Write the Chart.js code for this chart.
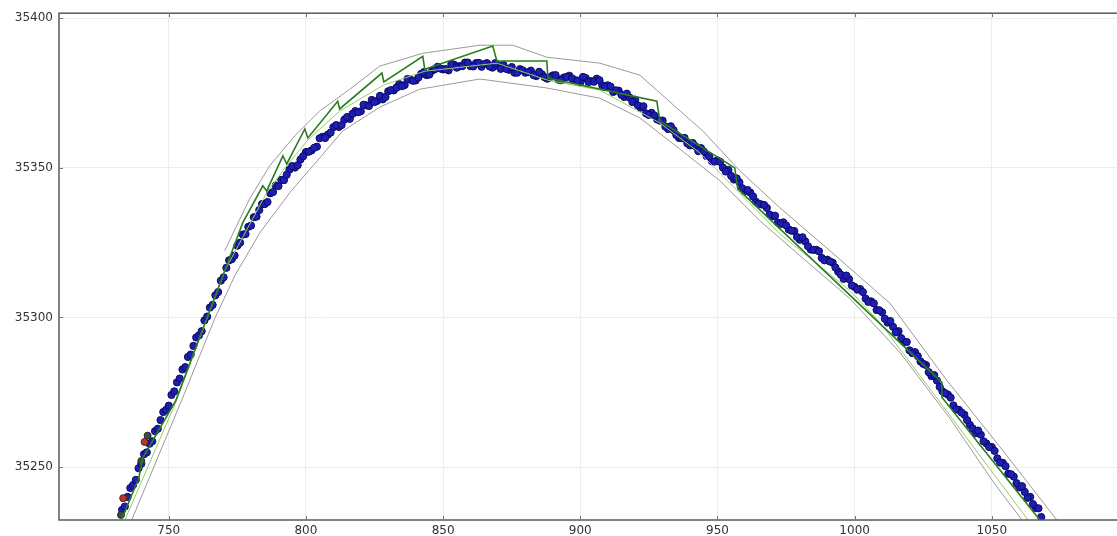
<!DOCTYPE html>
<html><head><meta charset="utf-8">
<script src="https://cdn.jsdelivr.net/npm/chart.js@4/dist/chart.umd.min.js"></script>
<style>
html,body{margin:0;padding:0;background:#fff;overflow:hidden}
#wrap{width:1160px;height:536px;position:relative}
</style>
</head><body><div id="wrap"><canvas id="c"></canvas></div>
<script>
// tick labels
const xTickValues = [750, 800, 850, 900, 950, 1000, 1050];
const yTickValues = [35250, 35300, 35350, 35400];

// measured track (blue dots)
const trackX = [733,734,735,736,737,738,739,740,741,742,743,744,745,746,747,748,749,750,751,752,753,754,755,756,757,758,759,760,761,762,763,764,765,766,767,768,769,770,771,772,773,774,775,776,777,778,779,780,781,782,783,784,785,786,787,788,789,790,791,792,
794,796,798,800,802,804,806,808,810,812,814,816,818,820,822,824,826,828,830,832,834,836,838,840,842,844,846,848,850,852,854,856,858,860,862,864,866,868,870,872,874,876,878,880,882,884,886,888,890,892,894,896,898,900,902,904,906,908,910,912,914,916,918,920,922,924,926,928,930,932,934,936,938,940,942,944,946,948,950,952,954,956,958,960,962,964,966,968,970,972,974,976,978,980,982,984,986,988,990,992,994,996,998,1000,1002,1004,1006,1008,1010,1012,1014,1016,1018,1020,1022,1024,1026,1028,1030,1032,1034,1036,1038,1040,1042,1044,1046,1048,1050,1052,1054,1056,1058,1060,1062,1064,1066,1068];
const trackY = [35235.7,35236.8,35240.0,35243.0,35244.0,35245.7,35249.6,35251.1,35254.3,35254.9,35257.8,35258.6,35262.0,35262.8,35265.7,35268.4,35269.1,35270.5,35274.1,35275.3,35278.3,35279.6,35282.6,35283.4,35286.8,35287.6,35290.5,35293.3,35294.0,35295.4,35299.0,35300.3,35303.3,35304.2,35307.4,35308.5,35312.3,35313.4,35316.6,35319.1,35319.5,35320.7,35324.0,35325.0,35327.7,35327.9,35330.3,35330.7,35333.5,35333.7,35335.9,35337.9,35337.9,35338.6,35341.5,35341.9,35344.1,35343.9,35346.0,35345.9,
35349.4,35350.1,35352.8,35355.3,35355.8,35357.1,35360.4,35361.1,35363.6,35363.7,35366.1,35366.4,35369.0,35368.9,35370.9,35372.7,35372.4,35372.9,35375.6,35375.9,35378.0,35377.7,35379.5,35379.2,35381.4,35381.0,35382.5,35383.8,35382.9,35382.6,35384.5,35384.0,35385.2,35384.0,35385.0,35383.8,35385.0,35383.5,35384.1,35384.4,35382.8,35381.8,35383.0,35381.8,35382.5,35380.7,35381.3,35379.8,35380.9,35379.5,35380.2,35380.8,35379.3,35378.6,35380.0,35379.0,35379.8,35377.6,35377.6,35375.4,35375.8,35373.7,35373.5,35372.8,35370.1,35368.2,35368.4,35366.2,35365.8,35363.0,35362.6,35360.0,35360.0,35357.5,35357.2,35356.6,35354.0,35352.2,35352.5,35350.1,35349.3,35346.1,35345.2,35342.2,35341.7,35338.7,35337.8,35336.6,35333.8,35331.7,35331.8,35329.4,35328.9,35326.0,35325.4,35322.7,35322.6,35319.9,35319.3,35318.3,35315.3,35312.9,35312.8,35310.2,35309.5,35306.3,35305.4,35302.5,35301.7,35298.3,35296.9,35295.4,35291.8,35289.0,35288.4,35285.3,35284.1,35280.4,35278.9,35275.3,35274.2,35270.6,35269.1,35267.5,35264.1,35261.3,35260.8,35257.9,35256.7,35252.9,35251.4,35247.8,35246.8,35243.2,35241.7,35240.0,35236.3,35233.3];

// the fixes in between (odd positions)
const trackOddX = [793,795,797,799,801,803,805,807,809,811,813,815,817,819,821,823,825,827,829,831,833,835,837,839,841,843,845,847,849,851,853,855,857,859,861,863,865,867,869,871,873,875,877,879,881,883,885,887,889,891,893,895,897,899,901,903,905,907,909,911,913,915,917,919,921,923,925,927,929,931,933,935,937,939,941,943,945,947,949,951,953,955,957,959,961,963,965,967,969,971,973,975,977,979,981,983,985,987,989,991,993,995,997,999,1001,1003,1005,1007,1009,1011,1013,1015,1017,1019,1021,1023,1025,1027,1029,1031,1033,1035,1037,1039,1041,1043,1045,1047,1049,1051,1053,1055,1057,1059,1061,1063,1065,1067];
const trackOddY = [35347.7,35350.6,35350.9,35353.9,35355.4,35356.7,35359.9,35360.0,35361.8,35364.3,35364.3,35367.0,35368.1,35368.6,35371.1,35370.7,35372.0,35374.1,35373.7,35376.0,35376.8,35377.3,35379.7,35379.1,35380.2,35382.0,35381.2,35383.0,35383.2,35383.0,35384.7,35383.5,35384.0,35385.2,35383.9,35385.1,35384.7,35383.9,35385.0,35383.1,35383.1,35383.7,35381.8,35382.6,35382.0,35381.0,35382.1,35380.3,35380.3,35381.0,35379.3,35380.4,35379.9,35379.2,35380.4,35378.7,35378.8,35379.3,35377.0,35377.2,35375.9,35374.4,35374.8,35372.0,35370.9,35370.6,35367.7,35367.5,35365.8,35363.8,35363.9,35361.0,35359.9,35358.2,35358.3,35355.6,35355.5,35353.9,35352.1,35352.0,35348.8,35347.3,35346.5,35343.2,35342.6,35340.4,35338.0,35337.6,35334.4,35334.0,35331.2,35330.8,35329.0,35326.9,35326.8,35323.8,35322.6,35322.1,35319.1,35318.7,35316.7,35314.3,35314.0,35310.7,35309.3,35308.5,35305.2,35304.7,35302.4,35299.6,35298.8,35295.0,35293.1,35291.8,35288.1,35287.1,35284.5,35281.7,35280.7,35276.8,35274.7,35273.2,35269.3,35268.2,35265.7,35262.9,35262.2,35258.6,35256.7,35255.4,35251.5,35250.3,35247.6,35244.6,35243.6,35239.7,35237.6,35236.2];

// a few differently coloured fixes at the start of the track
const redX = [733.4, 741.2];
const redY = [35239.6, 35258.4];
const darkX = [732.6, 740.0, 742.3];
const darkY = [35234.0, 35252.0, 35260.5];

// step-wise prediction (dark green)
const predX = [732.9,739.1,740.5,752.6,771.5,777.0,784.3,785.7,791.6,793.0,799.6,800.7,811.6,812.3,827.7,828.4,842.6,843.3,868.1,869.6,887.8,888.2,927.9,929.0,956.3,957.4,1031.8,1031.8,1067.5];
const predY = [35232.7,35246.3,35253.0,35272.3,35318.3,35331.7,35344.0,35342.3,35354.0,35351.3,35363.0,35360.0,35372.3,35369.7,35381.7,35378.7,35387.3,35383.0,35390.7,35385.7,35385.7,35380.0,35372.3,35365.7,35350.0,35343.0,35278.3,35273.3,35232.3];

// smoothed path (light green)
const smoothX = [734.0,752.6,770.8,785.7,793.0,800.7,812.3,828.4,843.3,869.6,888.2,907.1,929.0,943.6,972.7,998.3,1009.2,1031.1,1063.2];
const smoothY = [35232.3,35271.7,35316.3,35341.7,35350.7,35359.3,35369.0,35377.7,35382.3,35385.0,35379.3,35376.0,35365.0,35355.0,35328.0,35309.0,35298.3,35271.7,35232.3];

// upper bound (gray)
const upperX = [770.4,779.5,786.8,795.9,805.0,816.0,826.9,842.6,863.4,875.4,887.8,907.1,921.7,935.2,944.7,958.2,972.7,991.0,1012.9,1033.6,1053.0,1073.7];
const upperY = [35322.3,35339.7,35350.7,35360.7,35369.0,35376.3,35384.0,35388.3,35391.0,35391.0,35387.0,35385.0,35381.0,35370.0,35362.3,35349.0,35336.7,35322.3,35304.7,35279.0,35256.7,35232.3];

// lower bound (gray)
const lowerX = [736.5,754.7,766.8,774.1,783.2,794.1,805.0,813.4,826.9,841.5,863.4,887.8,907.1,921.7,936.3,950.9,965.5,980.0,998.3,1016.5,1034.7,1051.1,1061.0];
const lowerY = [35232.3,35272.3,35299.7,35314.0,35328.3,35341.7,35353.3,35362.3,35370.3,35376.3,35379.7,35376.7,35373.3,35366.7,35356.3,35345.7,35332.3,35320.7,35306.3,35288.3,35266.3,35244.3,35232.3];

const X_MIN = 710, X_MAX = 1100, Y_MIN = 35232.3, Y_MAX = 35401.7;

function pts(xs, ys) { return xs.map((x, i) => ({ x: x, y: ys[i] })); }

const boxPlugin = {
  id: 'box',
  afterDatasetsDraw(chart) {
    const a = chart.chartArea, ctx = chart.ctx;
    const xs = chart.scales.x, ys = chart.scales.y;
    ctx.save();
    ctx.strokeStyle = '#5a5a5a';
    ctx.lineWidth = 1.5;
    ctx.strokeRect(a.left, a.top, a.right - a.left, a.bottom - a.top);
    ctx.lineWidth = 1;
    ctx.strokeStyle = '#777';
    ctx.beginPath();
    xTickValues.forEach(v => {
      const p = Math.round(xs.getPixelForValue(v)) + 0.5;
      ctx.moveTo(p, a.bottom); ctx.lineTo(p, a.bottom - 4);
      ctx.moveTo(p, a.top); ctx.lineTo(p, a.top + 4);
    });
    yTickValues.forEach(v => {
      const p = Math.round(ys.getPixelForValue(v)) + 0.5;
      ctx.moveTo(a.left, p); ctx.lineTo(a.left + 4, p);
    });
    ctx.stroke();
    ctx.restore();
  }
};

const lineDs = (label, xs, ys, color, width) => ({
  label, data: pts(xs, ys), showLine: true, borderColor: color, borderWidth: width,
  pointRadius: 0, pointHoverRadius: 0, tension: 0, fill: false
});

new Chart(document.getElementById('c'), {
  type: 'scatter',
  data: {
    datasets: [
      lineDs('prediction', predX, predY, '#2a7d1e', 1.6),
      lineDs('smoothed', smoothX, smoothY, '#96cf62', 1),
      lineDs('upper', upperX, upperY, '#9a9a9a', 1),
      lineDs('lower', lowerX, lowerY, '#9a9a9a', 1),
      { label: 'red', data: pts(redX, redY), pointRadius: 3.5, backgroundColor: '#b23a2a', borderColor: '#6a1a10', borderWidth: 1 },
      { label: 'dark', data: pts(darkX, darkY), pointRadius: 3.5, backgroundColor: '#3a4a4a', borderColor: '#202828', borderWidth: 1 },
      { label: 'track', data: pts(trackX, trackY).concat(pts(trackOddX, trackOddY)), pointRadius: 3.6, backgroundColor: '#1e1eb4', borderColor: '#0a0a62', borderWidth: 1 }
    ]
  },
  options: {
    responsive: true, maintainAspectRatio: false, animation: false, devicePixelRatio: 1,
    layout: { padding: { top: 12, left: 0, right: 31, bottom: 0 } },
    plugins: { legend: { display: false }, tooltip: { enabled: false } },
    scales: {
      x: {
        type: 'linear', min: X_MIN, max: X_MAX,
        border: { display: false },
        grid: { color: '#ededed', lineWidth: 1, drawTicks: false },
        ticks: { autoSkip: false, maxRotation: 0, padding: 4, color: '#333', font: { family: 'DejaVu Sans', size: 12 }, callback: v => String(v) },
        afterBuildTicks: s => { s.ticks = xTickValues.map(v => ({ value: v })); },
        afterFit: s => { s.height = 16; }
      },
      y: {
        type: 'linear', min: Y_MIN, max: Y_MAX,
        border: { display: false },
        grid: { color: '#ededed', lineWidth: 1, drawTicks: false },
        ticks: { padding: 6, color: '#333', font: { family: 'DejaVu Sans', size: 12 }, callback: v => String(v) },
        afterBuildTicks: s => { s.ticks = yTickValues.map(v => ({ value: v })); },
        afterFit: s => { s.width = 59; }
      }
    }
  },
  plugins: [boxPlugin]
});
</script>
</body></html>
